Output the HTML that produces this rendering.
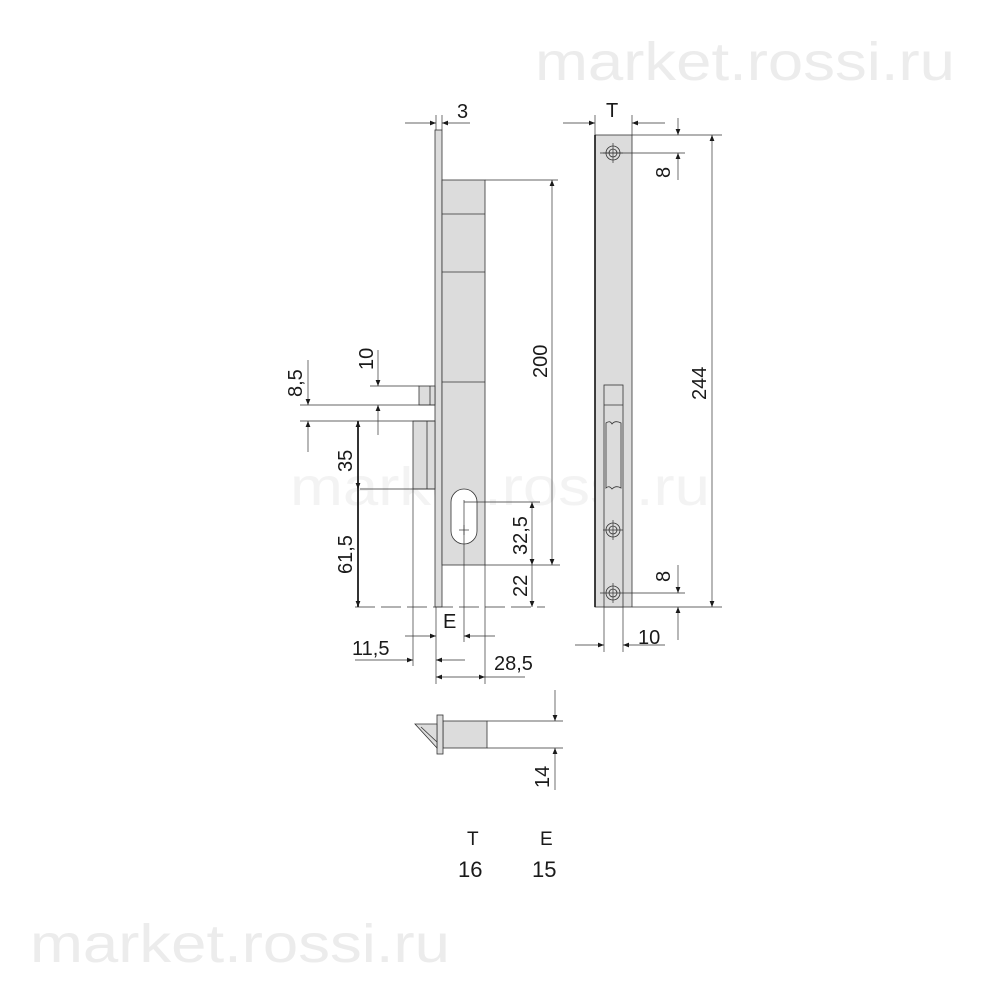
<!DOCTYPE html>
<html><head><meta charset="utf-8"><style>
html,body{margin:0;padding:0;background:#fff;}
svg{display:block;}
text{font-family:"Liberation Sans",sans-serif;fill:#1a1a1a;}
.wm{fill:#ececec;font-size:54px;}
</style></head><body>
<svg width="1000" height="1000" viewBox="0 0 1000 1000" xmlns="http://www.w3.org/2000/svg">
<defs>
<marker id="a" viewBox="0 0 10 10" refX="10" refY="5" markerWidth="10" markerHeight="6" orient="auto-start-reverse" markerUnits="userSpaceOnUse"><path d="M0,1 L10,5 L0,9 z" fill="#1a1a1a"/></marker>
</defs>
<text class="wm" x="535" y="80" textLength="420" lengthAdjust="spacingAndGlyphs">market.rossi.ru</text>
<text class="wm" x="290" y="505" style="fill:#f3f3f3" textLength="420" lengthAdjust="spacingAndGlyphs">market.rossi.ru</text>
<text class="wm" x="30" y="962" textLength="420" lengthAdjust="spacingAndGlyphs">market.rossi.ru</text>

<g stroke="#333" stroke-width="0.8" fill="#dcdcdc">
<rect x="435" y="130" width="7" height="477"/>
<rect x="442" y="180" width="43" height="385"/>
<line x1="442" y1="214" x2="485" y2="214"/>
<line x1="442" y1="272" x2="485" y2="272"/>
<line x1="442" y1="382" x2="485" y2="382"/>
<rect x="451" y="489" width="26" height="55" rx="13" fill="#fff"/>
<rect x="419" y="386" width="16" height="19"/>
<line x1="430" y1="386" x2="430" y2="405"/>
<rect x="413" y="421" width="22" height="68"/>
<line x1="427" y1="421" x2="427" y2="489"/>
<rect x="595" y="135" width="37" height="472"/>
<rect x="604" y="385" width="19" height="222" fill="#dcdcdc"/>
<line x1="604" y1="405" x2="623" y2="405"/>
<path d="M606 423 q4 -3 6 1 q3 -4 9 -1 L621 488 q-5 -3 -9 1 q-3 -4 -6 -1 z" fill="#dcdcdc"/>
<circle cx="613" cy="153" r="7" fill="#dcdcdc"/><circle cx="613" cy="153" r="4" fill="#dcdcdc"/>
<circle cx="613" cy="530" r="7" fill="#dcdcdc"/><circle cx="613" cy="530" r="4" fill="#dcdcdc"/>
<circle cx="613" cy="593" r="7" fill="#dcdcdc"/><circle cx="613" cy="593" r="4" fill="#dcdcdc"/>
<rect x="443" y="721" width="44" height="27"/>
<rect x="437" y="715" width="6" height="39"/>
<path d="M415 724 L437 724 L437 748 z" />
<line x1="421" y1="727" x2="437" y2="742"/>
</g>
<line x1="595" y1="135" x2="595" y2="607" stroke="#111" stroke-width="1.6"/>

<g stroke="#333" stroke-width="0.7" fill="none">
<line x1="485" y1="180" x2="558" y2="180"/>
<line x1="485" y1="565" x2="560" y2="565"/>
<line x1="464" y1="502" x2="540" y2="502"/>
<line x1="355" y1="607" x2="545" y2="607" stroke-dasharray="20,6"/>
<line x1="300" y1="405" x2="435" y2="405"/>
<line x1="300" y1="421" x2="435" y2="421"/>
<line x1="370" y1="386" x2="419" y2="386"/>
<line x1="360" y1="489" x2="435" y2="489"/>
<line x1="413" y1="489" x2="413" y2="666"/>
<line x1="464" y1="500" x2="464" y2="642"/>
<line x1="436" y1="607" x2="436" y2="684"/>
<line x1="485" y1="565" x2="485" y2="684"/>
<line x1="436" y1="115" x2="436" y2="130"/>
<line x1="442" y1="115" x2="442" y2="130"/>
<line x1="595" y1="115" x2="595" y2="135"/>
<line x1="632" y1="115" x2="632" y2="135"/>
<line x1="632" y1="135" x2="722" y2="135"/>
<line x1="600" y1="153" x2="685" y2="153"/>
<line x1="600" y1="593" x2="685" y2="593"/>
<line x1="632" y1="607" x2="722" y2="607"/>
<line x1="604" y1="607" x2="604" y2="652"/>
<line x1="623" y1="607" x2="623" y2="652"/>
<line x1="487" y1="721" x2="563" y2="721"/>
<line x1="487" y1="748" x2="563" y2="748"/>
<line x1="405" y1="123" x2="436" y2="123" marker-end="url(#a)"/>
<line x1="470" y1="123" x2="442" y2="123" marker-end="url(#a)"/>
<line x1="552" y1="180" x2="552" y2="565" marker-start="url(#a)" marker-end="url(#a)"/>
<line x1="532" y1="502" x2="532" y2="565" marker-start="url(#a)" marker-end="url(#a)"/>
<line x1="532" y1="565" x2="532" y2="607" marker-end="url(#a)"/>
<line x1="378" y1="350" x2="378" y2="386" marker-end="url(#a)"/>
<line x1="378" y1="435" x2="378" y2="405" marker-end="url(#a)"/>
<line x1="308" y1="360" x2="308" y2="405" marker-end="url(#a)"/>
<line x1="308" y1="452" x2="308" y2="421" marker-end="url(#a)"/>
<line x1="358" y1="421" x2="358" y2="489" stroke-width="2" marker-start="url(#a)" marker-end="url(#a)"/>
<line x1="358" y1="489" x2="358" y2="607" stroke-width="2" marker-end="url(#a)"/>
<line x1="405" y1="636" x2="436" y2="636" marker-end="url(#a)"/>
<line x1="495" y1="636" x2="464" y2="636" marker-end="url(#a)"/>
<line x1="355" y1="660" x2="413" y2="660" marker-end="url(#a)"/>
<line x1="465" y1="660" x2="436" y2="660" marker-end="url(#a)"/>
<line x1="436" y1="677" x2="485" y2="677" marker-start="url(#a)" marker-end="url(#a)"/>
<line x1="485" y1="677" x2="525" y2="677"/>
<line x1="563" y1="123" x2="595" y2="123" marker-end="url(#a)"/>
<line x1="665" y1="123" x2="632" y2="123" marker-end="url(#a)"/>
<line x1="678" y1="118" x2="678" y2="135" marker-end="url(#a)"/>
<line x1="678" y1="180" x2="678" y2="153" marker-end="url(#a)"/>
<line x1="678" y1="565" x2="678" y2="593" marker-end="url(#a)"/>
<line x1="678" y1="640" x2="678" y2="607" marker-end="url(#a)"/>
<line x1="712" y1="135" x2="712" y2="607" marker-start="url(#a)" marker-end="url(#a)"/>
<line x1="575" y1="645" x2="604" y2="645" marker-end="url(#a)"/>
<line x1="665" y1="645" x2="623" y2="645" marker-end="url(#a)"/>
<line x1="555" y1="690" x2="555" y2="721" marker-end="url(#a)"/>
<line x1="555" y1="790" x2="555" y2="748" marker-end="url(#a)"/>
<line x1="464" y1="525" x2="464" y2="535"/><line x1="459" y1="530" x2="469" y2="530"/>
<line x1="603" y1="153" x2="623" y2="153"/><line x1="613" y1="143" x2="613" y2="163"/>
<line x1="603" y1="530" x2="623" y2="530"/><line x1="613" y1="520" x2="613" y2="540"/>
<line x1="613" y1="583" x2="613" y2="603"/>
</g>

<g font-size="20">
<text x="457" y="118">3</text>
<text x="606" y="117">T</text>
<text x="443" y="628">E</text>
<text x="352" y="655">11,5</text>
<text x="494" y="670">28,5</text>
<text x="638" y="644">10</text>
<text transform="translate(547,378) rotate(-90)">200</text>
<text transform="translate(706,400) rotate(-90)">244</text>
<text transform="translate(670,178) rotate(-90)">8</text>
<text transform="translate(670,582) rotate(-90)">8</text>
<text transform="translate(373,370) rotate(-90)">10</text>
<text transform="translate(302,397) rotate(-90)">8,5</text>
<text transform="translate(352,472) rotate(-90)">35</text>
<text transform="translate(352,574) rotate(-90)">61,5</text>
<text transform="translate(527,555) rotate(-90)">32,5</text>
<text transform="translate(527,597) rotate(-90)">22</text>
<text transform="translate(549,788) rotate(-90)">14</text>
</g>
<g font-size="19">
<text x="467" y="845">T</text>
<text x="540" y="845">E</text>
<text x="458" y="877" font-size="22">16</text>
<text x="532" y="877" font-size="22">15</text>
</g>
</svg>
</body></html>
